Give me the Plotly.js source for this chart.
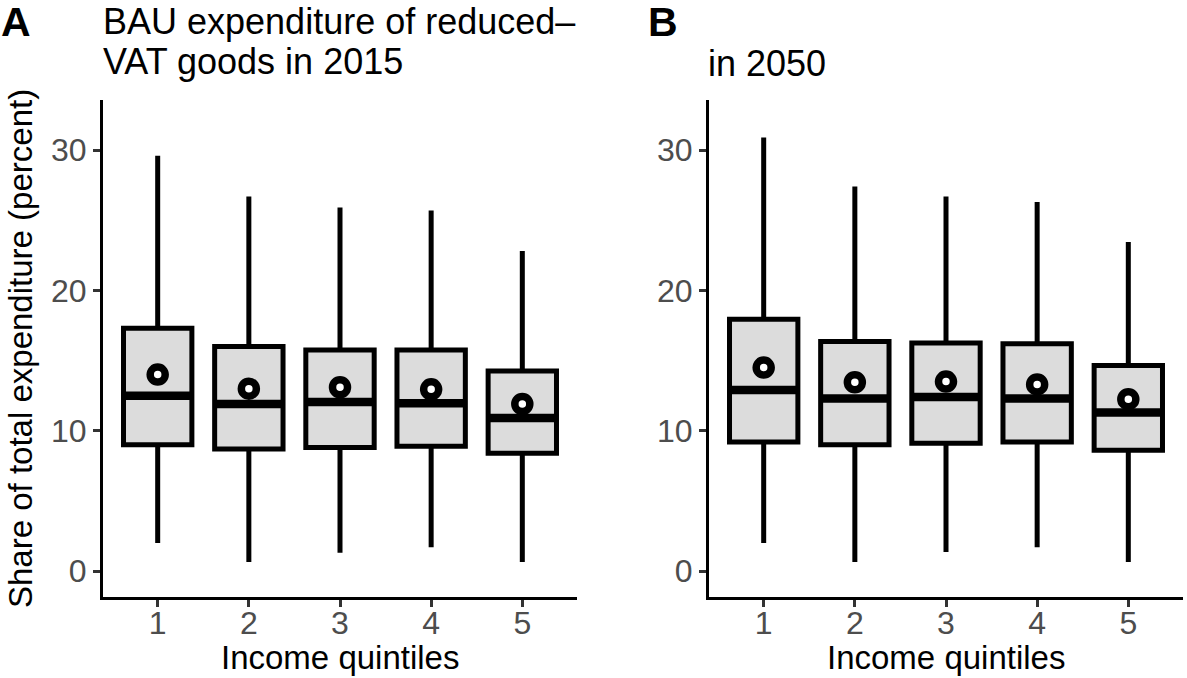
<!DOCTYPE html>
<html>
<head>
<meta charset="utf-8">
<script src="https://cdn.plot.ly/plotly-3.0.1.min.js"></script>
<style>html,body{margin:0;padding:0;background:#fff;}#chart{width:1187px;height:678px;}</style>
</head>
<body>
<div id="chart"></div>
<script>
// ---------- data ----------
const quintiles = [1, 2, 3, 4, 5];
const quintileLabels = ['1', '2', '3', '4', '5'];
const yTicks = [0, 10, 20, 30];

// Panel A: 2015
const upper2015  = [29.6, 26.7, 25.9, 25.7, 22.8];
const q3_2015    = [17.3, 16.0, 15.75, 15.75, 14.25];
const median2015 = [12.5, 11.9, 12.05, 11.95, 10.9];
const mean2015   = [14.0, 13.0, 13.1, 12.95, 11.9];
const q1_2015    = [9.0, 8.7, 8.8, 8.9, 8.4];
const lower2015  = [2.0, 0.65, 1.3, 1.7, 0.65];

// Panel B: 2050
const upper2050  = [30.9, 27.4, 26.7, 26.3, 23.45];
const q3_2050    = [17.95, 16.35, 16.25, 16.2, 14.65];
const median2050 = [12.9, 12.3, 12.4, 12.3, 11.3];
const mean2050   = [14.5, 13.45, 13.5, 13.3, 12.25];
const q1_2050    = [9.2, 9.0, 9.1, 9.2, 8.6];
const lower2050  = [2.0, 0.65, 1.35, 1.7, 0.65];

const titleA1 = 'BAU expenditure of reduced–';
const titleA2 = 'VAT goods in 2015';
const titleB = 'in 2050';
const xTitle = 'Income quintiles';
const yTitle = 'Share of total expenditure (percent)';

// ---------- styling ----------
const W = 1187, H = 678;
const px = v => v / W;
const py = v => 1 - v / H;
const FONT = 'Liberation Sans, Arial, Helvetica, sans-serif';
const BOXW = 0.75;

function boxTrace(xa, ya, q1, med, q3, lo, hi) {
  return {
    type: 'box', xaxis: xa, yaxis: ya,
    x: quintiles, q1: q1, median: med, q3: q3, lowerfence: lo, upperfence: hi,
    width: BOXW, whiskerwidth: 0, boxpoints: false,
    fillcolor: '#DCDCDC', line: {color: '#000', width: 5},
    hoverinfo: 'skip'
  };
}
function medianTrace(xa, ya, med) {
  const x = [], y = [];
  quintiles.forEach((q, i) => { x.push(q - BOXW / 2, q + BOXW / 2, null); y.push(med[i], med[i], null); });
  return {type: 'scatter', mode: 'lines', xaxis: xa, yaxis: ya, x: x, y: y,
    line: {color: '#000', width: 8.5}, hoverinfo: 'skip', connectgaps: false};
}
function meanTrace(xa, ya, mean) {
  return {type: 'scatter', mode: 'markers', xaxis: xa, yaxis: ya, x: quintiles, y: mean,
    marker: {symbol: 'circle', size: 15, color: '#fff', line: {color: '#000', width: 7.5}},
    hoverinfo: 'skip'};
}

const data = [
  boxTrace('x', 'y', q1_2015, median2015, q3_2015, lower2015, upper2015),
  medianTrace('x', 'y', median2015),
  meanTrace('x', 'y', mean2015),
  boxTrace('x2', 'y2', q1_2050, median2050, q3_2050, lower2050, upper2050),
  medianTrace('x2', 'y2', median2050),
  meanTrace('x2', 'y2', mean2050)
];

const xBase = {
  range: [0.4, 5.6], tickvals: quintiles, ticktext: quintileLabels,
  showline: true, linecolor: '#000', linewidth: 3,
  ticks: 'outside', ticklen: 7, tickwidth: 3, tickcolor: '#333',
  ticklabelstandoff: -11,
  tickfont: {family: FONT, size: 32, color: '#4D4D4D'},
  showgrid: false, zeroline: false, fixedrange: true
};
const yBase = {
  range: [-1.85, 33.57], tickvals: yTicks, ticktext: yTicks.map(String),
  showline: true, linecolor: '#000', linewidth: 3,
  ticks: 'outside', ticklen: 7, tickwidth: 3, tickcolor: '#333',
  tickfont: {family: FONT, size: 32, color: '#4D4D4D'},
  showgrid: false, zeroline: false, fixedrange: true
};

const yDom = [py(597), py(100)];
const label = (t, x) => ({text: '<b>' + t + '</b>', xref: 'paper', yref: 'paper', x: px(x), y: py(44.5),
  xanchor: 'left', yanchor: 'bottom', showarrow: false, borderpad: 0, borderwidth: 0,
  font: {family: FONT, size: 41, color: '#000'}});
const layout = {
  width: W, height: H,
  margin: {l: 0, r: 0, t: 0, b: 0},
  paper_bgcolor: '#fff', plot_bgcolor: '#fff',
  showlegend: false,
  font: {family: FONT, color: '#000'},
  xaxis: Object.assign({}, xBase, {domain: [px(103), px(577)], anchor: 'y'}),
  yaxis: Object.assign({}, yBase, {domain: yDom, anchor: 'x'}),
  xaxis2: Object.assign({}, xBase, {domain: [px(709), px(1183)], anchor: 'y2'}),
  yaxis2: Object.assign({}, yBase, {domain: yDom, anchor: 'x2'}),
  annotations: [
    label('A', 1),
    label('B', 648),
    {text: titleA1, xref: 'paper', yref: 'paper', x: px(101), y: py(44), xanchor: 'left', yanchor: 'bottom', showarrow: false, font: {family: FONT, size: 36, color: '#000'}},
    {text: titleA2, xref: 'paper', yref: 'paper', x: px(101), y: py(84), xanchor: 'left', yanchor: 'bottom', showarrow: false, font: {family: FONT, size: 36, color: '#000'}},
    {text: titleB, xref: 'paper', yref: 'paper', x: px(706), y: py(86), xanchor: 'left', yanchor: 'bottom', showarrow: false, font: {family: FONT, size: 36, color: '#000'}},
    {text: xTitle, xref: 'paper', yref: 'paper', x: px(340), y: py(678), xanchor: 'center', yanchor: 'bottom', showarrow: false, font: {family: FONT, size: 33, color: '#000'}},
    {text: xTitle, xref: 'paper', yref: 'paper', x: px(946), y: py(678), xanchor: 'center', yanchor: 'bottom', showarrow: false, font: {family: FONT, size: 33, color: '#000'}},
    {text: yTitle, xref: 'paper', yref: 'paper', x: px(20), y: py(349), xanchor: 'center', yanchor: 'middle', textangle: -90, showarrow: false, font: {family: FONT, size: 33, color: '#000'}}
  ]
};

Plotly.newPlot('chart', data, layout, {displayModeBar: false, staticPlot: true});
</script>
</body>
</html>
